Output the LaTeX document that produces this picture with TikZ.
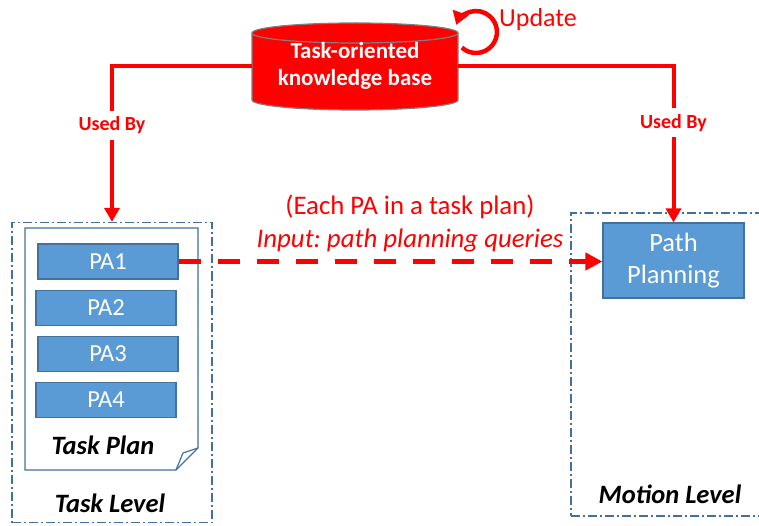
\documentclass[tikz,border=0pt]{standalone}
\usepackage{fontspec}
\setmainfont{Carlito}
\usetikzlibrary{arrows.meta}
\definecolor{kbred}{HTML}{FF0000}
\definecolor{pafill}{HTML}{5B9BD5}
\definecolor{paedge}{HTML}{41719C}
\definecolor{cylgray}{HTML}{7F7F7F}
\frenchspacing

\begin{document}
\begin{tikzpicture}[x=1pt,y=1pt,
  pabox/.style={draw=paedge, line width=1.2pt, fill=pafill, text=white,
    minimum width=140pt, minimum height=35pt, inner sep=0pt,
    font=\fontsize{24.5}{28}\selectfont},
  levelbox/.style={draw=paedge, line width=1.3pt,
    dash pattern=on 9pt off 3pt on 2pt off 3pt, inner sep=0pt},
  redline/.style={draw=kbred, line width=4pt},
  redarrow/.style={redline, -{Triangle[length=14pt,width=15pt]}},
  usedby/.style={fill=white, text=kbred, inner sep=6pt,
    font=\bfseries\fontsize{20}{24}\selectfont},
  leveltitle/.style={font=\bfseries\itshape\fontsize{26.5}{30}\selectfont},
  redtext/.style={text=kbred, font=\fontsize{26.8}{30}\selectfont}
]
\useasboundingbox (0,0) rectangle (759,525);

% knowledge base drum
\fill[kbred] (252,492) -- (252,425)
  arc[start angle=180, end angle=360, x radius=103, y radius=10]
  -- (458,492)
  arc[start angle=0, end angle=180, x radius=103, y radius=10] -- cycle;
\draw[cylgray, line width=1.2pt] (252,492) -- (252,425)
  arc[start angle=180, end angle=360, x radius=103, y radius=10] -- (458,492);
\draw[cylgray, line width=1.2pt] (355,492) ellipse[x radius=103, y radius=10];
\node[minimum width=206pt, minimum height=87pt, inner sep=0pt, align=center,
  text=white, font=\bfseries\fontsize{23}{27}\selectfont]
  (kb) at (355,458.5) {\raisebox{-6pt}{\begin{tabular}{@{}c@{}}Task-oriented\\[0pt]knowledge base\end{tabular}}};

% update loop
\coordinate (loopstart) at (461.9,477.4);
\draw[draw=kbred, line width=4.5pt, -{Triangle[length=13pt,width=16pt]}] (loopstart)
  arc[start angle=-132, end angle=160, radius=21];
\node[anchor=west, text=kbred, inner sep=0pt, font=\fontsize{26}{30}\selectfont]
  (upd) at (499,505) {Update};

% task level
\node[levelbox, minimum width=200pt, minimum height=300pt] (tl) at (112,152.5) {};
\draw[paedge, line width=1.2pt, fill=white]
  (25,297) -- (198,297) -- (198,77) -- (176,55) -- (25,55) -- cycle;
\draw[paedge, line width=1.2pt] (198,77) -- (183,72) -- (176,55);
\node[pabox] (pa1) at (108,263.5) {PA1};
\node[pabox] (pa2) at (106,217) {PA2};
\node[pabox] (pa3) at (108,171) {PA3};
\node[pabox] (pa4) at (106,125) {PA4};
\node[leveltitle] (tp) at (103,80) {Task Plan};
\node[leveltitle] (tlt) at (110,22) {Task Level};

% motion level
\node[levelbox, minimum width=200pt, minimum height=303pt] (ml) at (671,160.5) {};
\node[pabox, minimum width=141pt, minimum height=75pt, align=center,
  font=\fontsize{26.5}{32}\selectfont] (pp) at (673.5,264.5) {Path\\Planning};
\node[leveltitle] (mlt) at (670,31) {Motion Level};

% used-by links
\draw[redarrow] (kb.west) -| node[usedby, pos=0.689] (ub1) {Used By} (tl.north);
\draw[redarrow] (kb.east) -| node[usedby, pos=0.68] (ub2) {Used By} (pp.north);

% query link
\draw[draw=kbred, line width=5.5pt, dash pattern=on 22pt off 17pt,
  -{Triangle[length=17pt,width=17pt]}] (pa1.east) -- (pa1.east -| pp.west);
\node[redtext] (each) at (410,318) {(Each PA in a task plan)};
\node[redtext, font=\itshape\fontsize{26.8}{30}\selectfont] (inp) at (410,285)
  {Input: path planning queries};
\end{tikzpicture}
\end{document}
